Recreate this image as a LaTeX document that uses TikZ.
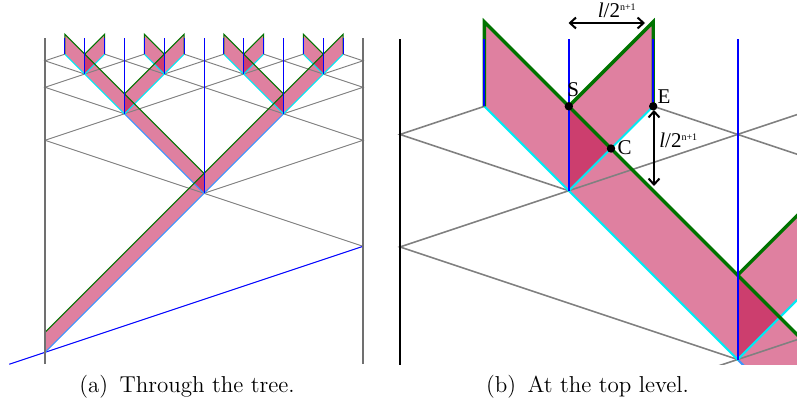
\documentclass[tikz,border=0pt]{standalone}
\usepackage{fontspec}
\usetikzlibrary{arrows.meta}
\newfontfamily\lbfont{Liberation Serif}
\definecolor{bandpink}{RGB}{223,128,160}
\definecolor{banddark}{RGB}{204,62,110}
\definecolor{edgegreen}{RGB}{0,115,0}
\definecolor{edgecyan}{RGB}{0,235,245}
\definecolor{edgelb}{RGB}{60,150,255}
\definecolor{sigblue}{RGB}{0,0,255}
\definecolor{latgray}{RGB}{128,128,128}
\definecolor{wallgray}{RGB}{112,112,112}

\newcommand{\treedraw}{%
  % band fills
  \fill[tfill] (0,0)--(8,8)--(8,9)--(0,1)--cycle;
  \foreach \a/\b/\c/\d in {8/8/4/12, 8/8/12/12, 4/12/2/14, 4/12/6/14, 12/12/10/14, 12/12/14/14,
      2/14/1/15, 2/14/3/15, 6/14/5/15, 6/14/7/15, 10/14/9/15, 10/14/11/15, 14/14/13/15, 14/14/15/15}
    \fill[tfill] (\a,\b)--(\c,\d)--(\c,{\d+1})--(\a,{\b+1})--cycle;
  % overlap triangles
  \foreach \a/\b/\s in {8/8/-1, 4/12/1, 12/12/-1, 2/14/1, 6/14/-1, 10/14/1, 14/14/-1}
    \fill[tdark] (\a,\b)--(\a,{\b+1})--({\a+0.5*\s},{\b+0.5})--cycle;
  % lattice of gray signals
  \draw[tgray] (16,5.33333)--(0,10.66667);
  \draw[tgray] (8,8)--(16,10.66667)--(3,15);
  \draw[tgray] (0,10.66667)--(13,15);
  \draw[tgray] (4,12)--(0,13.33333)--(5,15);
  \draw[tgray] (12,12)--(16,13.33333)--(11,15);
  \draw[tgray] (2,14)--(0,14.66667)--(1,15);
  \draw[tgray] (6,14)--(9,15);
  \draw[tgray] (10,14)--(7,15);
  \draw[tgray] (14,14)--(16,14.66667)--(15,15);
  % incoming blue signal
  \draw[tblue] (-1.8,-0.6)--(16,5.33333);
  % lower edges of the band
  \draw[tlb] (0,0)--(8,8);
  \draw[tlb] (4,12)--(8,8)--(12,12);
  \foreach \a/\b in {4/12, 12/12}
    \draw[tcyan] ({\a-2},{\b+2})--(\a,\b)--({\a+2},{\b+2});
  \foreach \a in {2,6,10,14}
    \draw[tcyan] ({\a-1},15)--(\a,14)--({\a+1},15);
  % upper edges of the band
  \draw[tgreen] (0,0)--(0,1)--(8,9)--(12,13)--(14,15)--(15,16)--(15,15);
  \draw[tgreen] (8,9)--(4,13)--(2,15)--(1,16)--(1,15);
  \draw[tgreen] (4,13)--(6,15)--(7,16)--(7,15);
  \draw[tgreen] (12,13)--(10,15)--(9,16)--(9,15);
  \draw[tgreen] (2,15)--(3,16)--(3,15);
  \draw[tgreen] (6,15)--(5,16)--(5,15);
  \draw[tgreen] (10,15)--(11,16)--(11,15);
  \draw[tgreen] (14,15)--(13,16)--(13,15);
  % stationary blue signals
  \draw[tblue] (8,8)--(8,15.8);
  \foreach \a in {4,12} \draw[tblue] (\a,12)--(\a,15.8);
  \foreach \a in {2,6,10,14} \draw[tblue] (\a,14)--(\a,15.8);
  \foreach \a in {1,3,...,15} \draw[tblue] (\a,15)--(\a,15.8);
  % walls
  \draw[twall] (0,-0.6)--(0,15.8);
  \draw[twall] (16,-0.6)--(16,15.8);
}

\begin{document}
\begin{tikzpicture}[x=0.5pt,y=-0.5pt,
  tfill/.style={fill=bandpink},
  tdark/.style={fill=banddark},
  dimarrow/.style={draw=black,line width=1pt,{Straight Barb[length=3pt,width=5.5pt]}-{Straight Barb[length=3pt,width=5.5pt]}},
  lbl/.style={font=\lbfont\fontsize{10.5pt}{10.5pt}\selectfont,inner sep=0pt},
  dimlbl/.style={font=\lbfont\fontsize{10.5pt}{10.5pt}\selectfont,inner sep=0pt,anchor=base west},
  capt/.style={font=\fontsize{11.5pt}{13pt}\selectfont\addfontfeatures{LetterSpace=14},inner sep=0pt,anchor=base}]
\useasboundingbox (0,0) rectangle (797,402);

% ---------- panel (a) ----------
\begin{scope}[shift={(45,352.3)},x=9.9375pt,y=9.9375pt,
  tgray/.style={draw=latgray,line width=0.45pt},
  tblue/.style={draw=sigblue,line width=0.5pt},
  tlb/.style={draw=edgelb,line width=0.55pt},
  tcyan/.style={draw=edgecyan,line width=0.55pt},
  tgreen/.style={draw=edgegreen,line width=0.55pt,line join=miter},
  twall/.style={draw=wallgray,line width=1pt}]
  \treedraw
\end{scope}

% ---------- panel (b) ----------
\begin{scope}
  \clip (397,0) rectangle (797,364);
  \begin{scope}[shift={(400,1372.3)},x=42.2pt,y=42.2pt,
    tgray/.style={draw=latgray,line width=0.8pt},
    tblue/.style={draw=sigblue,line width=1pt},
    tlb/.style={draw=edgelb,line width=1pt},
    tcyan/.style={draw=edgecyan,line width=1pt},
    tgreen/.style={draw=edgegreen,line width=1.7pt,line join=miter},
    twall/.style={draw=black,line width=0.9pt}]
    \treedraw
    \coordinate (S) at (2,15);
    \coordinate (E) at (3,15);
    \coordinate (C) at (2.5,14.5);
    \fill[black] (S) circle (2.1pt);
    \fill[black] (E) circle (2.1pt);
    \fill[black] (C) circle (2.1pt);
  \end{scope}
\end{scope}

\node[lbl] (labS) at (573.3,90) {S};
\node[lbl] (labE) at (664,96.7) {E};
\node[lbl] (labC) at (624.5,147.5) {C};

\coordinate (h1) at (568.5,23);
\coordinate (h2) at (645,23);
\draw[dimarrow] (h1) -- (h2);
\node[dimlbl] (hlab) at (597.5,17) {\textit{l}/2\raisebox{3.2pt}{\fontsize{5pt}{5pt}\selectfont n+1}};

\coordinate (v1) at (654,110);
\coordinate (v2) at (654,186);
\draw[dimarrow] (v1) -- (v2);
\node[dimlbl] (vlab) at (659,147) {\textit{l}/2\raisebox{3.2pt}{\fontsize{5pt}{5pt}\selectfont n+1}};

% ---------- captions ----------
\node[capt] (capa) at (187,392) {(a)\hspace{2pt} Through the tree.};
\node[capt] (capb) at (587.5,392.5) {(b)\hspace{2pt} At the top level.};
\end{tikzpicture}
\end{document}
